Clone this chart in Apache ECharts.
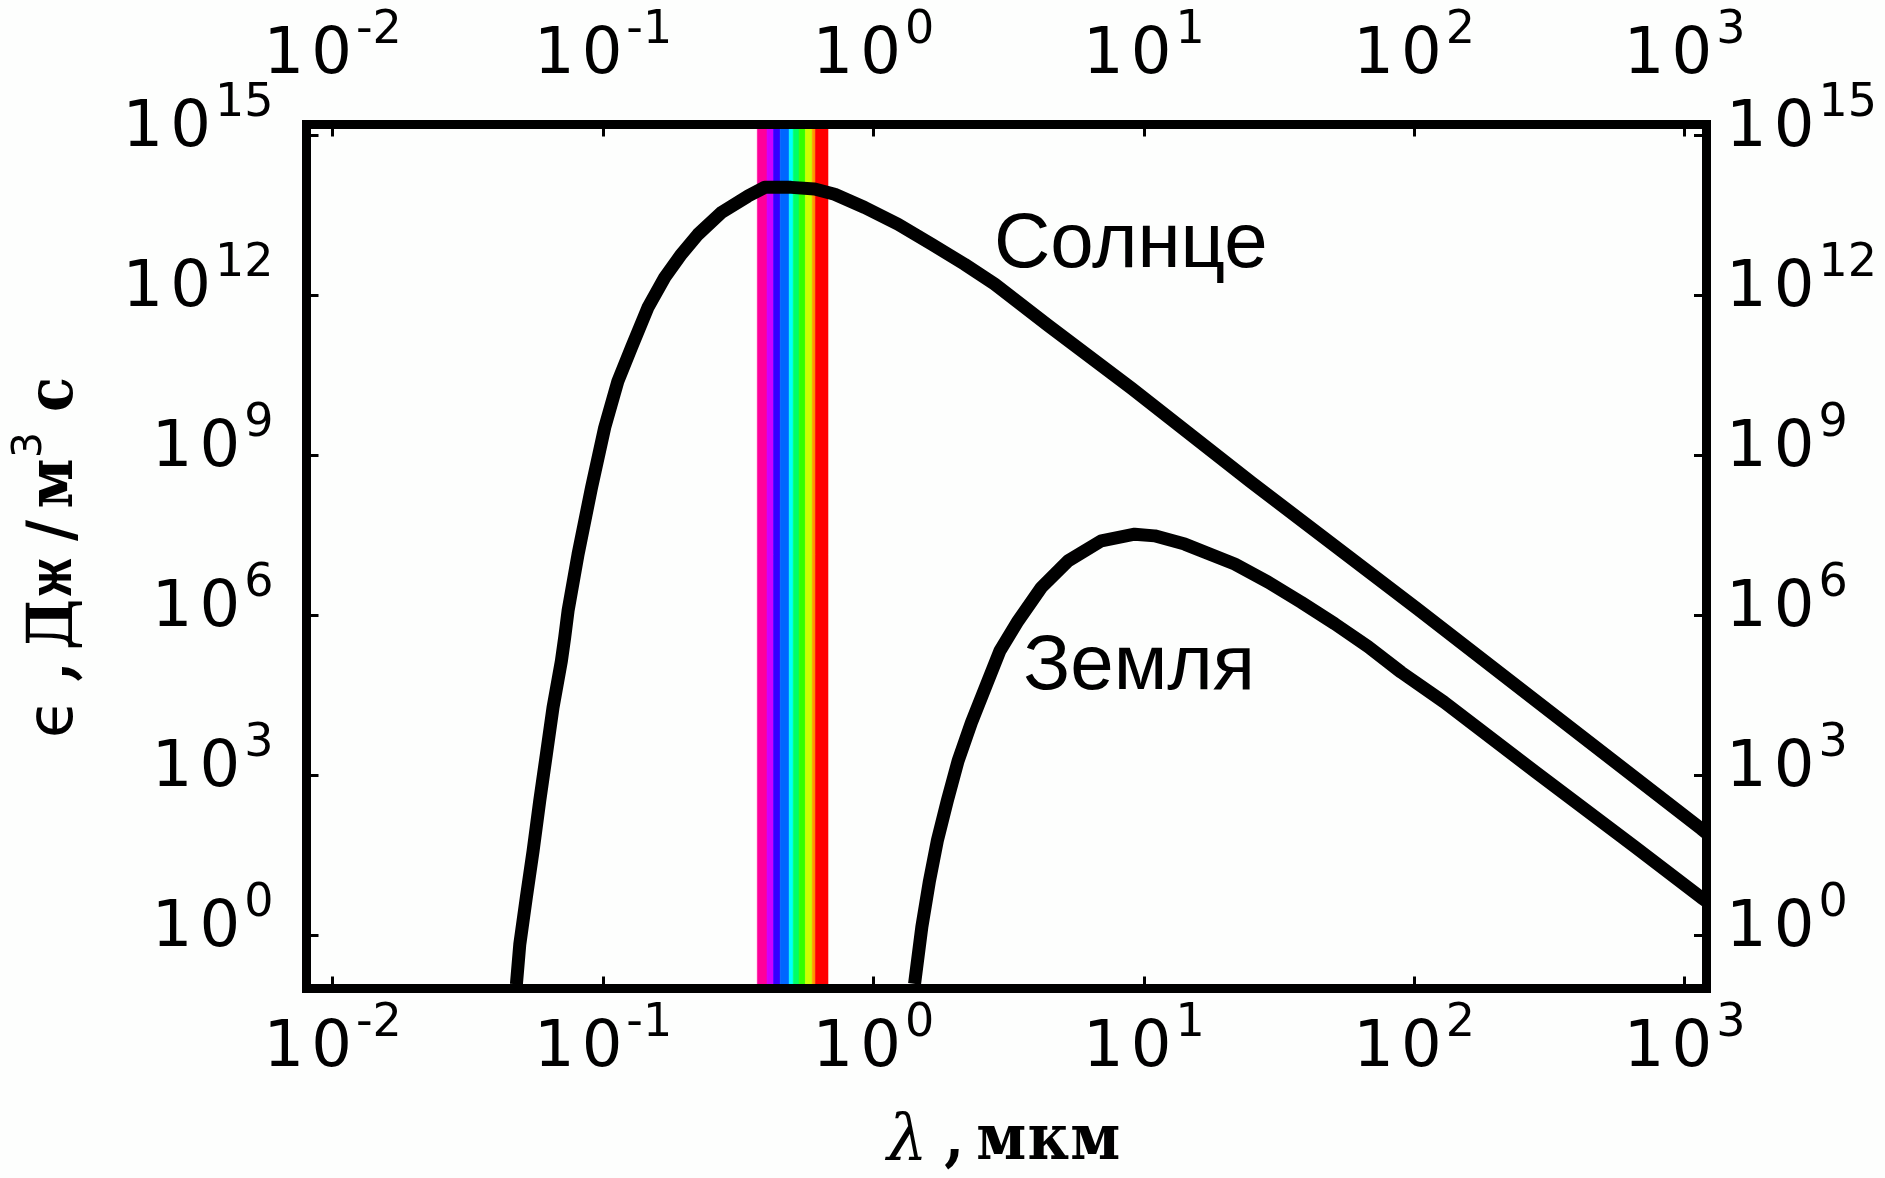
<!DOCTYPE html>
<html>
<head>
<meta charset="utf-8">
<title>Спектральная плотность излучения Солнца и Земли</title>
<script src="https://cdn.jsdelivr.net/npm/echarts@6/dist/echarts.min.js"></script>
<style>
  html, body { margin: 0; padding: 0; background: #fdfefd; }
  #chart { width: 1885px; height: 1178px; }
</style>
</head>
<body>
<div id="chart"></div>
<script>
// Wavelength, µm, and spectral emission, J/(m^3 s), along the solar curve
const sunLambda = [0.0478, 0.0492, 0.0520, 0.0551, 0.0583, 0.0617, 0.0653, 0.0701, 0.0721, 0.0742,
  0.0808, 0.0906, 0.1014, 0.1135, 0.1274, 0.1466, 0.169, 0.195, 0.2244, 0.274, 0.3436, 0.396,
  0.4966, 0.606, 0.7186, 0.928, 1.233, 1.637, 2.173, 2.805, 4.43, 9.0, 25, 103, 283, 1153, 1200];
const sunEmission = [0.12, 0.676, 5.07, 38, 331, 2455, 1.86e4, 1.38e5, 3.8e5, 1.2e6,
  1.38e7, 2.45e8, 3.3e9, 2.45e10, 1.05e11, 5.9e11, 2.14e12, 5.9e12, 1.38e13, 3.55e13, 7.2e13, 1.05e14,
  1.05e14, 9.8e13, 7.8e13, 4.4e13, 2.14e13, 9.1e12, 3.8e12, 1.62e12, 2.7e11, 1.8e10, 3.1e8, 1.3e6, 2.45e4, 98, 83];

// Same quantities along the terrestrial curve
const earthLambda = [1.419, 1.510, 1.611, 1.722, 1.875, 2.056, 2.301, 2.616, 2.935, 3.426, 4.178,
  5.248, 6.966, 9.247, 10.96, 14.16, 21.68, 28.77, 38.19, 50.8, 67.5, 89.5, 129, 279, 653, 1153, 1200];
const earthEmission = [0.122, 1.43, 10.4, 58.6, 330, 1850, 9570, 4.93e4, 2.14e5, 7.8e5, 3.3e6,
  1.045e7, 2.48e7, 3.3e7, 3.07e7, 2.15e7, 9.1e6, 4.2e6, 1.75e6, 6.9e5, 2.57e5, 8.5e4, 2.34e4, 1175, 45.7, 5.07, 4.4];

// Visible band: colour stripe edges, µm, and their colours (violet to red)
const visibleEdges = [0.372, 0.404, 0.427, 0.452, 0.488, 0.505, 0.531, 0.560, 0.594, 0.610, 0.679];
const visibleColors = ['#ff0099', '#cc00ff', '#3300ff', '#0066ff', '#00ffff', '#00ff66', '#33ff00', '#ccff00', '#ff9900', '#ff0000'];

// Tick positions (decades)
const lambdaTicks = [0.01, 0.1, 1, 10, 100, 1000];
const emissionTicks = [1, 1e3, 1e6, 1e9, 1e12, 1e15];

// Curve captions and where they sit, in data units
const curveNames = ['Солнце', 'Земля'];
const curveNameAt = [[2.79, 8.5e12], [3.58, 1.06e5]];

const zip = (xs, ys) => xs.map((x, i) => [x, ys[i]]);

function powerLabel(v) {
  const e = Math.round(Math.log10(v));
  return '{one|1}{zero|0}{sup|' + e + '}';
}

const tickRich = {
  one:  { fontFamily: 'DejaVu Sans', fontSize: 64, lineHeight: 96, color: '#000', padding: [0, 7, 0, 0] },
  zero: { fontFamily: 'DejaVu Sans', fontSize: 64, lineHeight: 96, color: '#000', padding: [0, 4, 0, 0] },
  sup:  { fontFamily: 'DejaVu Sans', fontSize: 46, lineHeight: 46, color: '#000', verticalAlign: 'top' }
};

// Slab-serif face for the unit names, kept narrow so letters fit their cells
const unitFont = '"DejaVu Serif Condensed", "Liberation Mono", monospace';
const narrowFont = '"Liberation Mono", monospace';

const frameLine = { show: true, lineStyle: { color: '#000', width: 9, cap: 'square' } };

function lambdaAxis(position, extra) {
  return Object.assign({
    type: 'log', logBase: 10, position: position,
    min: 0.008, max: 1200, z: 3,
    axisLine: frameLine,
    splitLine: { show: false },
    minorTick: { show: false },
    axisTick: { show: true, inside: true, length: 12, customValues: lambdaTicks, lineStyle: { color: '#000', width: 3 } },
    axisLabel: { show: true, customValues: lambdaTicks, formatter: powerLabel, rich: tickRich, margin: position === 'top' ? 20 : 13 }
  }, extra || {});
}

function emissionAxis(position, extra) {
  return Object.assign({
    type: 'log', logBase: 10, position: position,
    min: 0.1, max: Math.pow(10, 15.2), z: 3,
    axisLine: frameLine,
    splitLine: { show: false },
    minorTick: { show: false },
    axisTick: { show: true, inside: true, length: 12, customValues: emissionTicks, lineStyle: { color: '#000', width: 3 } },
    axisLabel: { show: true, customValues: emissionTicks, formatter: powerLabel, rich: tickRich,
      padding: [0, 0, 12, 0], margin: position === 'left' ? 33 : 20 }
  }, extra || {});
}

const chart = echarts.init(document.getElementById('chart'), null, { renderer: 'canvas' });

chart.setOption({
  animation: false,
  backgroundColor: '#fdfefd',
  grid: { left: 306.5, top: 124.5, right: 179, bottom: 189.5, containLabel: false, outerBoundsMode: 'none' },
  xAxis: [
    lambdaAxis('bottom', {
      name: '{l|λ}{c|,}{c|м}{c|к}{c|м}',
      nameLocation: 'middle',
      nameGap: 122,
      nameTextStyle: {
        padding: [0, 10, 0, 0],
        rich: {
          l: { fontFamily: 'DejaVu Serif', fontStyle: 'italic', fontSize: 64, lineHeight: 64, width: 47, align: 'center', color: '#000' },
          c: { fontFamily: unitFont, fontWeight: 'bold', fontSize: 64, lineHeight: 64, width: 47, align: 'center', color: '#000' }
        }
      }
    }),
    lambdaAxis('top')
  ],
  yAxis: [
    emissionAxis('left', {
      name: '{e|ϵ}{c|,}{c|Д}{n|ж}{c|/}{c|м}{s|3}{c|с}',
      nameLocation: 'middle',
      nameGap: 205,
      nameTextStyle: {
        rich: {
          e: { fontFamily: 'DejaVu Sans', fontSize: 64, lineHeight: 92, width: 47, align: 'center', color: '#000' },
          c: { fontFamily: unitFont, fontWeight: 'bold', fontSize: 64, lineHeight: 92, width: 47, align: 'center', color: '#000' },
          n: { fontFamily: narrowFont, fontWeight: 'bold', fontSize: 62, lineHeight: 92, width: 47, align: 'center', color: '#000' },
          s: { fontFamily: 'DejaVu Sans', fontSize: 41, lineHeight: 40, width: 30, align: 'center', verticalAlign: 'top', padding: [0, 12, 0, 0], color: '#000' }
        }
      }
    }),
    emissionAxis('right')
  ],
  series: [
    {
      type: 'custom',
      name: 'видимый диапазон',
      xAxisIndex: 0, yAxisIndex: 0,
      z: 1, silent: true, clip: false,
      encode: { x: [0, 1] },
      data: visibleColors.map((c, i) => [visibleEdges[i], visibleEdges[i + 1]]),
      renderItem: function (params, api) {
        const cs = params.coordSys;
        const x0 = api.coord([api.value(0), 1])[0];
        const x1 = api.coord([api.value(1), 1])[0];
        const color = visibleColors[params.dataIndex];
        return {
          type: 'rect',
          shape: { x: x0, y: cs.y - 4, width: x1 - x0, height: cs.height + 4 },
          style: { fill: color, stroke: color, lineWidth: 0.6 }
        };
      }
    },
    {
      type: 'line', name: curveNames[0],
      xAxisIndex: 0, yAxisIndex: 0, z: 2,
      data: zip(sunLambda, sunEmission),
      showSymbol: false, symbol: 'none', smooth: false,
      lineStyle: { color: '#000', width: 13, join: 'round' }
    },
    {
      type: 'line', name: curveNames[1],
      xAxisIndex: 0, yAxisIndex: 0, z: 2,
      data: zip(earthLambda, earthEmission),
      showSymbol: false, symbol: 'none', smooth: false,
      lineStyle: { color: '#000', width: 13, join: 'round' }
    },
    {
      type: 'scatter', name: 'подписи',
      xAxisIndex: 0, yAxisIndex: 0, z: 4, silent: true,
      symbolSize: 0,
      itemStyle: { opacity: 1 },
      data: curveNames.map((n, i) => ({ name: n, value: curveNameAt[i] })),
      label: {
        show: true, position: 'right', distance: 0, formatter: '{b}',
        fontFamily: 'Liberation Sans', fontSize: 78, color: '#000', opacity: 1
      }
    }
  ]
});
</script>
</body>
</html>
